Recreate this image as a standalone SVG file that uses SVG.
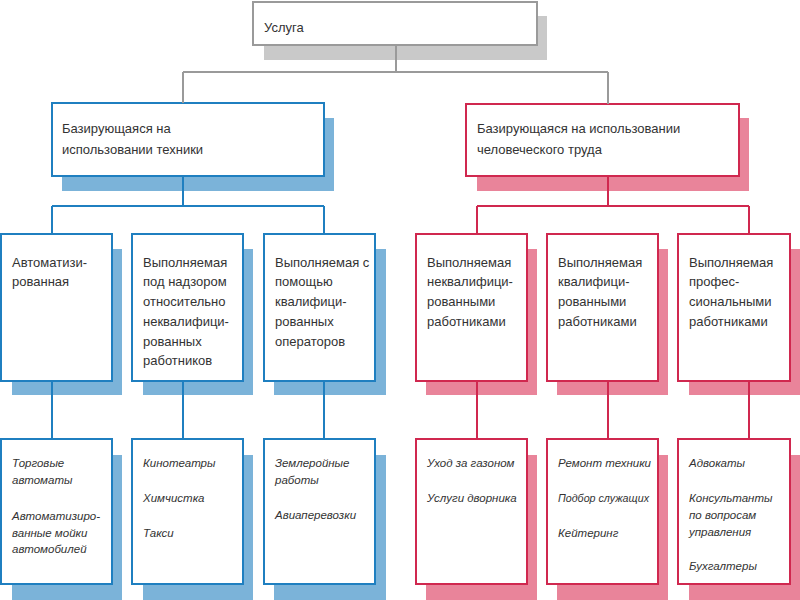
<svg xmlns="http://www.w3.org/2000/svg" width="800" height="600" viewBox="0 0 800 600">
<style>
text{font-family:"Liberation Sans",Arial,sans-serif;fill:#333;font-size:13px}
.it{font-style:italic;font-size:11.5px}
.box{fill:#fff;stroke-width:2}
.g{stroke:#9a9a9a}.gs{fill:#c9c9c9}
.b{stroke:#1f7fc0}.bs{fill:#7bb3d9}
.r{stroke:#d0284f}.rs{fill:#e9849a}
.cg{stroke:#9a9a9a;stroke-width:2;fill:none}
.cb{stroke:#1f7fc0;stroke-width:2;fill:none}
.cr{stroke:#d0284f;stroke-width:2;fill:none}
</style>
<rect width="800" height="600" fill="#fff"/>
<g id="root">
<rect class="gs" x="264" y="16" width="283" height="44"/>
<rect class="box g" x="253" y="2" width="284" height="43"/>
<text x="264" y="32">Услуга</text>
</g>
<g id="tech">
<rect class="bs" x="62" y="118" width="272" height="73"/>
<rect class="box b" x="52" y="103" width="272" height="73"/>
<text x="62" y="133">Базирующаяся на</text>
<text x="62" y="154">использовании техники</text>
</g>
<g id="human">
<rect class="rs" x="477" y="118" width="272" height="73"/>
<rect class="box r" x="466" y="104" width="273" height="72"/>
<text x="477" y="133">Базирующаяся на использовании</text>
<text x="477" y="154">человеческого труда</text>
</g>
<g id="auto">
<rect class="bs" x="12" y="249" width="110" height="146"/>
<rect class="box b" x="1" y="234" width="111" height="147"/>
<text x="12" y="267">Автоматизи-</text>
<text x="12" y="286">рованная</text>
</g>
<g id="supervised">
<rect class="bs" x="143" y="249" width="110" height="146"/>
<rect class="box b" x="132" y="234" width="111" height="147"/>
<text x="143" y="267">Выполняемая</text>
<text x="143" y="286">под надзором</text>
<text x="143" y="306">относительно</text>
<text x="143" y="326">неквалифици-</text>
<text x="143" y="346">рованных</text>
<text x="143" y="365">работников</text>
</g>
<g id="operators">
<rect class="bs" x="274" y="249" width="112" height="146"/>
<rect class="box b" x="264" y="234" width="111" height="147"/>
<text x="275" y="267">Выполняемая с</text>
<text x="275" y="286">помощью</text>
<text x="275" y="306">квалифици-</text>
<text x="275" y="326">рованных</text>
<text x="275" y="346">операторов</text>
</g>
<g id="unskilled">
<rect class="rs" x="426" y="249" width="111" height="146"/>
<rect class="box r" x="416" y="234" width="111" height="147"/>
<text x="427" y="267">Выполняемая</text>
<text x="427" y="286">неквалифици-</text>
<text x="427" y="306">рованными</text>
<text x="427" y="326">работниками</text>
</g>
<g id="skilled">
<rect class="rs" x="557" y="249" width="111" height="146"/>
<rect class="box r" x="547" y="234" width="111" height="147"/>
<text x="558" y="267">Выполняемая</text>
<text x="558" y="286">квалифици-</text>
<text x="558" y="306">рованными</text>
<text x="558" y="326">работниками</text>
</g>
<g id="professional">
<rect class="rs" x="689" y="249" width="111" height="146"/>
<rect class="box r" x="678" y="234" width="112" height="147"/>
<text x="689" y="267">Выполняемая</text>
<text x="689" y="286">профес-</text>
<text x="689" y="306">сиональными</text>
<text x="689" y="326">работниками</text>
</g>
<g id="ex-auto">
<rect class="bs" x="12" y="455" width="110" height="145"/>
<rect class="box b" x="1" y="439" width="111" height="145"/>
<text class="it" x="12" y="467">Торговые</text>
<text class="it" x="12" y="484">автоматы</text>
<text class="it" x="12" y="520">Автоматизиро-</text>
<text class="it" x="12" y="537">ванные мойки</text>
<text class="it" x="12" y="553">автомобилей</text>
</g>
<g id="ex-supervised">
<rect class="bs" x="143" y="455" width="110" height="145"/>
<rect class="box b" x="132" y="439" width="111" height="145"/>
<text class="it" x="143" y="467">Кинотеатры</text>
<text class="it" x="143" y="502">Химчистка</text>
<text class="it" x="143" y="537">Такси</text>
</g>
<g id="ex-operators">
<rect class="bs" x="274" y="455" width="112" height="145"/>
<rect class="box b" x="264" y="439" width="111" height="145"/>
<text class="it" x="275" y="467">Землеройные</text>
<text class="it" x="275" y="484">работы</text>
<text class="it" x="275" y="519">Авиаперевозки</text>
</g>
<g id="ex-unskilled">
<rect class="rs" x="426" y="455" width="111" height="145"/>
<rect class="box r" x="416" y="439" width="111" height="145"/>
<text class="it" x="427" y="467">Уход за газоном</text>
<text class="it" x="427" y="502">Услуги дворника</text>
</g>
<g id="ex-skilled">
<rect class="rs" x="557" y="455" width="111" height="145"/>
<rect class="box r" x="547" y="439" width="111" height="145"/>
<text class="it" x="558" y="467">Ремонт техники</text>
<text class="it" x="558" y="502" textLength="91" lengthAdjust="spacingAndGlyphs">Подбор служащих</text>
<text class="it" x="558" y="537">Кейтеринг</text>
</g>
<g id="ex-professional">
<rect class="rs" x="689" y="455" width="111" height="145"/>
<rect class="box r" x="678" y="439" width="112" height="145"/>
<text class="it" x="689" y="467">Адвокаты</text>
<text class="it" x="689" y="502">Консультанты</text>
<text class="it" x="689" y="519">по вопросам</text>
<text class="it" x="689" y="536">управления</text>
<text class="it" x="689" y="570">Бухгалтеры</text>
</g>
<g id="connectors">
<path class="cg" d="M396 45V72M183 72H608M183 72V103M608 72V104"/>
<path class="cb" d="M183 176V206M52 206H324M52 206V234M324 206V234"/>
<path class="cr" d="M608 176V206M477 206H749M477 206V234M749 206V234"/>
<path class="cb" d="M52 381V439M183 381V439M324 381V439"/>
<path class="cr" d="M477 381V439M608 381V439M749 381V439"/>
</g>
</svg>
